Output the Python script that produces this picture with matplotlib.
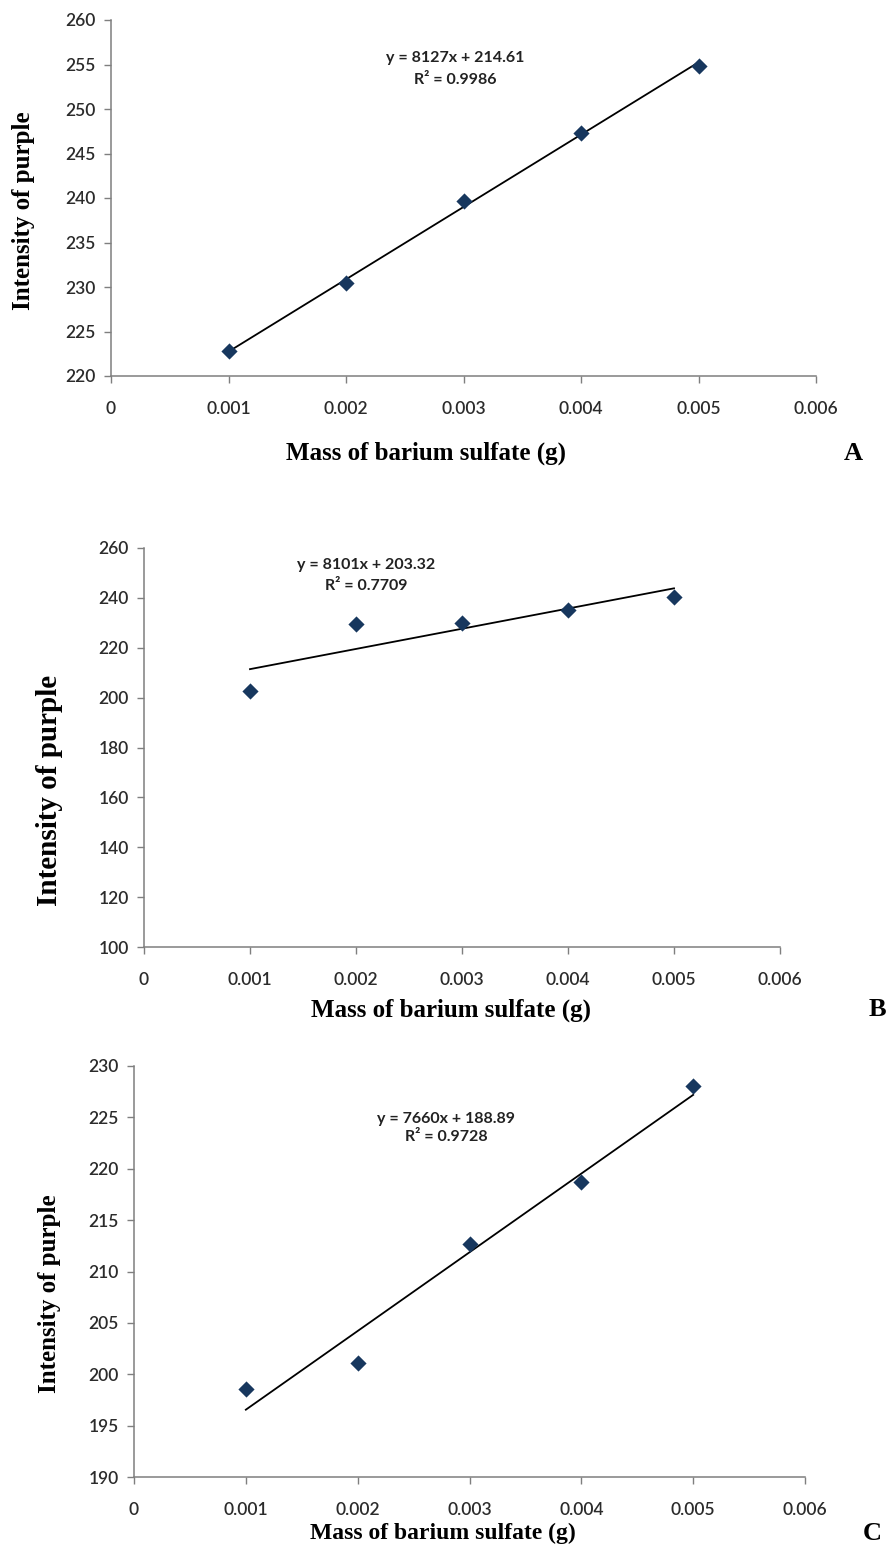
import matplotlib
matplotlib.use("Agg")
import matplotlib.pyplot as plt
import numpy as np

# data
mass = [0.001, 0.002, 0.003, 0.004, 0.005]
intensity_a = [222.8, 230.4, 239.7, 247.3, 254.8]
intensity_b = [202.5, 229.5, 230.0, 235.0, 240.2]
intensity_c = [198.6, 201.1, 212.7, 218.7, 228.1]

fit_a = [8127, 214.61]
fit_b = [8101, 203.32]
fit_c = [7660, 188.89]
r2_a, r2_b, r2_c = 0.9986, 0.7709, 0.9728

xticks = [0, 0.001, 0.002, 0.003, 0.004, 0.005, 0.006]
yticks_a = list(range(220, 261, 5))
yticks_b = list(range(100, 261, 20))
yticks_c = list(range(190, 231, 5))

W, H = 891, 1545
SERIF = "Liberation Serif"
SANS = "Lato"
MARKER = "#17375E"
SPINE = "#7f7f7f"

fig = plt.figure(figsize=(W / 100, H / 100), dpi=100)


def box(left, right, top, bottom):
    return [left / W, 1 - bottom / H, (right - left) / W, (bottom - top) / H]


def panel(rect, y, fit, r2, yticks, ylab_xy, ylab_size, xlab_x, xlab_size,
          eq_xy, eq_gap, letter, letter_xy):
    ax = fig.add_axes(box(*rect))
    ax.scatter(mass, y, marker="D", s=68, color=MARKER, zorder=3, linewidths=0)
    xs = np.array([mass[0], mass[-1]])
    ax.plot(xs, fit[0] * xs + fit[1], color="black", lw=1.3, zorder=2)

    ax.set_xlim(0, 0.006)
    ax.set_ylim(yticks[0], yticks[-1])
    ax.set_xticks(xticks)
    ax.set_xticklabels(["0" if t == 0 else f"{t:.3f}" for t in xticks])
    ax.set_yticks(yticks)
    for s in ["top", "right"]:
        ax.spines[s].set_visible(False)
    for s in ["left", "bottom"]:
        ax.spines[s].set_color(SPINE)
        ax.spines[s].set_linewidth(1.1)
    ax.tick_params(axis="x", direction="out", length=5, width=1, color=SPINE, pad=13)
    ax.tick_params(axis="y", direction="out", length=5, width=1, color=SPINE, pad=6)
    for lab in ax.get_xticklabels() + ax.get_yticklabels():
        lab.set_fontfamily(SANS)
        lab.set_fontsize(12.5)
        lab.set_fontweight("semibold")
        lab.set_color("#2b2b2b")

    fig.text(ylab_xy[0] / W, 1 - ylab_xy[1] / H, "Intensity of purple", rotation=90,
             ha="center", va="center", fontfamily=SERIF, fontweight="bold",
             fontsize=ylab_size, color="black")
    fig.text(xlab_x[0] / W, 1 - xlab_x[1] / H, "Mass of barium sulfate (g)",
             ha="center", va="center", fontfamily=SERIF, fontweight="bold",
             fontsize=xlab_size, color="black")
    fig.text(letter_xy[0] / W, 1 - letter_xy[1] / H, letter, ha="center", va="center",
             fontfamily=SERIF, fontweight="bold", fontsize=19, color="black")

    fig.text(eq_xy[0] / W, 1 - eq_xy[1] / H, f"y = {fit[0]}x + {fit[1]:.2f}",
             ha="center", va="center", fontfamily=SANS, fontweight="bold",
             fontsize=11.5, color="#222222")
    fig.text(eq_xy[0] / W, 1 - (eq_xy[1] + eq_gap) / H, f"R² = {r2:.4f}",
             ha="center", va="center", fontfamily=SANS, fontweight="bold",
             fontsize=11.5, color="#222222")
    return ax


panel((111, 816, 20, 376), intensity_a, fit_a, r2_a, yticks_a,
      (24, 211), 18, (426, 453), 18, (455, 58), 22, "A", (853, 453))
panel((144, 780, 548, 947), intensity_b, fit_b, r2_b, yticks_b,
      (50, 790), 21, (451, 1010), 18, (366, 565), 21, "B", (877, 1010))
panel((134, 805, 1066, 1477), intensity_c, fit_c, r2_c, yticks_c,
      (50, 1294), 18, (443, 1533), 17, (446, 1119), 18, "C", (872, 1533))

fig.savefig("out.png", dpi=100, facecolor="white")
